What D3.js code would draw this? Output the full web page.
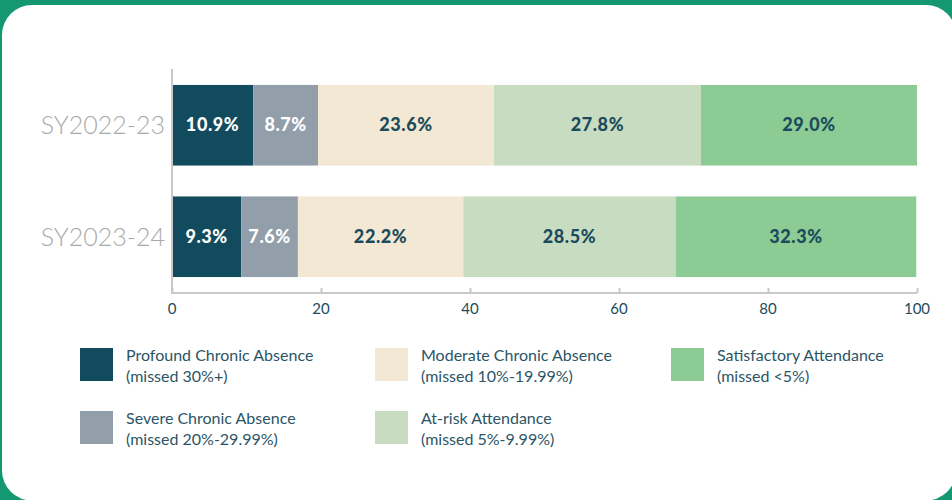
<!DOCTYPE html>
<html>
<head>
<meta charset="utf-8">
<script src="https://cdn.jsdelivr.net/npm/d3@7"></script>
<style>
  html, body { margin: 0; padding: 0; background: #139872; }
  svg { display: block; }
</style>
</head>
<body>
<svg id="chart" width="952" height="500"></svg>
<script>
var years = ['SY2022-23', 'SY2023-24'];
var categories = ['Profound', 'Severe', 'Moderate', 'At-risk', 'Satisfactory'];
var profound = [10.9, 9.3];
var severe = [8.7, 7.6];
var moderate = [23.6, 22.2];
var atRisk = [27.8, 28.5];
var satisfactory = [29.0, 32.3];
var xTicks = [0, 20, 40, 60, 80, 100];
var legendTitles = ['Profound Chronic Absence', 'Severe Chronic Absence', 'Moderate Chronic Absence',
  'At-risk Attendance', 'Satisfactory Attendance'];
var legendNotes = ['(missed 30%+)', '(missed 20%-29.99%)', '(missed 10%-19.99%)',
  '(missed 5%-9.99%)', '(missed <5%)'];

var colors = ['#134b5e', '#929fab', '#f2e8d3', '#c8dcc2', '#8ccc94'];
var labelColors = ['#ffffff', '#ffffff', '#1b4b5c', '#1b4b5c', '#1b4b5c'];
var axisGrey = '#c9c9c9';

var svg = d3.select('#chart');

// white card
svg.append('rect')
  .attr('x', 2).attr('y', 5)
  .attr('width', 954).attr('height', 495.6)
  .attr('rx', 30).attr('ry', 30)
  .attr('fill', '#ffffff');

var x = d3.scaleLinear().domain([0, 100]).range([172, 917]);
var y = d3.scaleBand().domain(years).range([69, 293]).paddingInner(0.277).paddingOuter(0.143);

var rows = years.map(function (yr, i) {
  var d = { year: yr };
  d[categories[0]] = profound[i];
  d[categories[1]] = severe[i];
  d[categories[2]] = moderate[i];
  d[categories[3]] = atRisk[i];
  d[categories[4]] = satisfactory[i];
  return d;
});

var stacked = d3.stack().keys(categories)(rows);

var layer = svg.selectAll('g.layer')
  .data(stacked)
  .enter().append('g')
  .attr('class', 'layer')
  .attr('fill', function (d, i) { return colors[i]; });

layer.selectAll('rect')
  .data(function (d) { return d; })
  .enter().append('rect')
  .attr('x', function (d) { return x(d[0]); })
  .attr('y', function (d) { return y(d.data.year); })
  .attr('width', function (d) { return x(d[1]) - x(d[0]); })
  .attr('height', y.bandwidth());

stacked.forEach(function (s, i) {
  svg.append('g').selectAll('text')
    .data(s)
    .enter().append('text')
    .attr('x', function (d) { return (x(d[0]) + x(d[1])) / 2; })
    .attr('y', function (d) { return y(d.data.year) + y.bandwidth() / 2 + 6; })
    .attr('text-anchor', 'middle')
    .attr('font-family', 'Lato, sans-serif')
    .attr('font-weight', 900)
    .attr('font-size', 18)
    .attr('letter-spacing', 0.6)
    .attr('fill', labelColors[i])
    .text(function (d) { return (d[1] - d[0]).toFixed(1) + '%'; });
});

// y labels
svg.append('g').selectAll('text')
  .data(years)
  .enter().append('text')
  .attr('x', 165)
  .attr('y', function (d) { return y(d) + y.bandwidth() / 2 + 9; })
  .attr('text-anchor', 'end')
  .attr('font-family', 'Lato, sans-serif')
  .attr('font-weight', 300)
  .attr('font-size', 25)
  .attr('fill', '#a9a9a9')
  .text(function (d) { return d; });

// axes
var xAxis = svg.append('g')
  .attr('transform', 'translate(0,293)')
  .call(d3.axisTop(x).tickValues(xTicks).tickSize(5).tickFormat(''));
xAxis.select('.domain').attr('stroke', axisGrey).attr('stroke-width', 2)
  .attr('d', 'M' + x(0) + ',0H' + x(100));
xAxis.selectAll('.tick line').attr('stroke', axisGrey).attr('stroke-width', 2);

svg.append('g').selectAll('text')
  .data(xTicks)
  .enter().append('text')
  .attr('x', function (d) { return x(d); })
  .attr('y', 314)
  .attr('text-anchor', 'middle')
  .attr('font-family', 'Lato, sans-serif')
  .attr('font-size', 15)
  .attr('fill', '#1b4b5c')
  .text(function (d) { return d; });

svg.append('line')
  .attr('x1', x(0)).attr('x2', x(0))
  .attr('y1', 69).attr('y2', 294)
  .attr('stroke', axisGrey).attr('stroke-width', 2);

// legend
var legendPos = [[80, 348], [80, 411], [375, 348], [375, 411], [671, 348]];
var legend = svg.append('g').selectAll('g')
  .data(legendTitles)
  .enter().append('g')
  .attr('transform', function (d, i) { return 'translate(' + legendPos[i][0] + ',' + legendPos[i][1] + ')'; });

legend.append('rect')
  .attr('width', 33).attr('height', 33)
  .attr('fill', function (d, i) { return colors[i]; });

legend.append('text')
  .attr('x', 46).attr('y', 13)
  .attr('font-family', 'Lato, sans-serif')
  .attr('font-size', 16)
  .attr('fill', '#2b5566')
  .text(function (d) { return d; });

legend.append('text')
  .attr('x', 46).attr('y', 34)
  .attr('font-family', 'Lato, sans-serif')
  .attr('font-size', 16)
  .attr('fill', '#2b5566')
  .text(function (d, i) { return legendNotes[i]; });
</script>
</body>
</html>
